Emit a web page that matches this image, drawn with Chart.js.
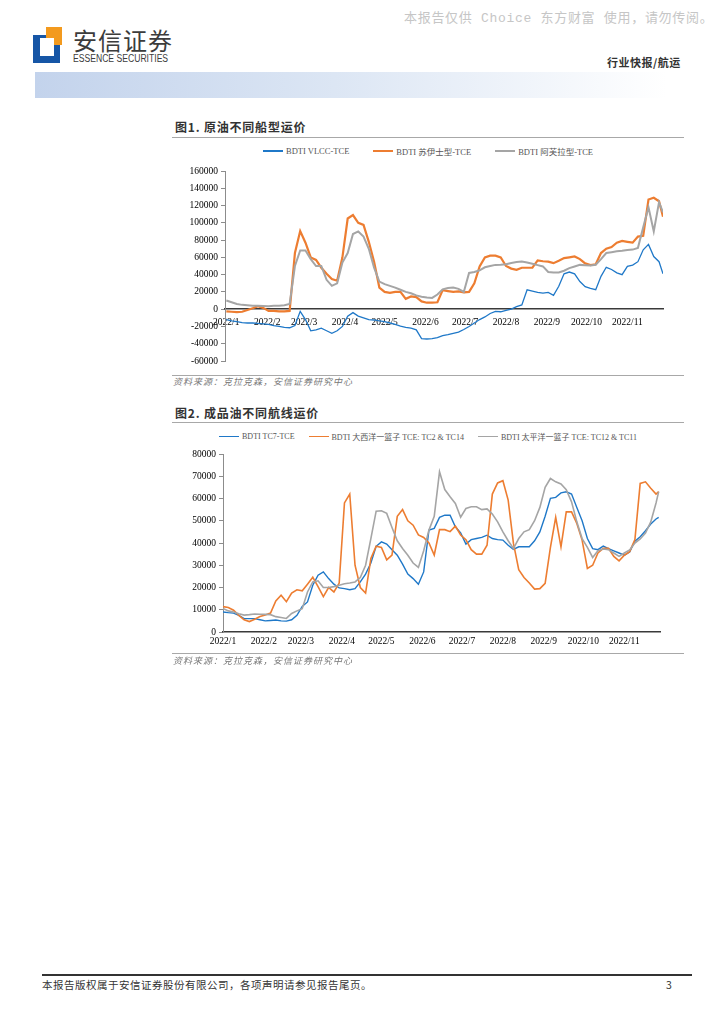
<!DOCTYPE html>
<html>
<head>
<meta charset="utf-8">
<script src="https://cdn.jsdelivr.net/npm/chart.js@4.4.0/dist/chart.umd.min.js"></script>
<style>
    body { margin: 0; width: 724px; height: 1024px; background: #fff; position: relative; overflow: hidden;
           font-family: "Noto Sans CJK SC", sans-serif; }
    .abs { position: absolute; white-space: nowrap; }
    .rule { position: absolute; height: 1px; background: #a8a8a8; }
    .title { font-size: 12px; font-weight: 700; color: #333; letter-spacing: 0.8px; }
    .source { font-size: 9px; font-style: italic; color: #777; letter-spacing: 1px; }
    .legend { position: absolute; left: 172px; width: 512px; display: flex; justify-content: center;
              font-family: "Liberation Serif", "Noto Sans CJK SC", serif; font-size: 8.5px; color: #555; }
    .legend .item { display: flex; align-items: center; }
    .legend .swatch { display: inline-block; margin-right: 3px; }
    .box { position: absolute; }
</style>
</head>
<body>

<div class="abs" style="left:404px;top:7px;font-size:13px;color:#c6c6c6;letter-spacing:0.7px;font-family:'Liberation Mono','Noto Sans CJK SC',monospace;">本报告仅供 Choice 东方财富 使用，请勿传阅。</div>

<!-- logo -->
<div class="abs" style="left:33px;top:35px;width:27px;height:28px;background:#1656a6;"></div>
<div class="abs" style="left:46px;top:27px;width:16px;height:18px;background:#f39a1e;"></div>
<div class="abs" style="left:40px;top:38px;width:14px;height:18px;background:#fff;"></div>
<div class="abs" style="left:73px;top:22px;font-size:24px;color:#3c3c3c;letter-spacing:1px;">安信证券</div>
<div class="abs" style="left:73px;top:53px;font-size:10px;color:#3c3c3c;font-family:'Liberation Sans',sans-serif;transform:scaleX(0.86);transform-origin:left;">ESSENCE SECURITIES</div>
<div class="abs" style="left:607px;top:54px;font-size:11px;font-weight:700;color:#333;letter-spacing:0.5px;">行业快报/航运</div>
<div class="abs" style="left:35px;top:72px;width:665px;height:26px;background:linear-gradient(to right,#c3d3ec 0%,#dce6f4 45%,#ffffff 95%);"></div>

<!-- figure 1 -->
<div class="abs title" style="left:175px;top:118px;">图1. 原油不同船型运价</div>
<div class="rule" style="left:172px;top:137px;width:512px;"></div>
<div class="legend" id="legend1" style="top:145px;"></div>
<div class="box" style="left:170px;top:161px;width:520px;height:210px;"><canvas id="crudeChart"></canvas></div>
<div class="rule" style="left:172px;top:375px;width:512px;"></div>
<div class="abs source" style="left:173px;top:375px;">资料来源：克拉克森，安信证券研究中心</div>

<!-- figure 2 -->
<div class="abs title" style="left:175px;top:404px;">图2. 成品油不同航线运价</div>
<div class="rule" style="left:172px;top:422px;width:512px;"></div>
<div class="legend" id="legend2" style="top:431px;font-size:8px;"></div>
<div class="box" style="left:168px;top:444px;width:522px;height:210px;"><canvas id="productChart"></canvas></div>
<div class="rule" style="left:172px;top:653px;width:512px;"></div>
<div class="abs source" style="left:173px;top:654px;">资料来源：克拉克森，安信证券研究中心</div>

<!-- footer -->
<div class="abs" style="left:42px;top:974px;width:650px;height:1.5px;background:#333;"></div>
<div class="abs" style="left:42px;top:977px;font-size:10.5px;color:#333;letter-spacing:0.5px;">本报告版权属于安信证券股份有限公司，各项声明请参见报告尾页。</div>
<div class="abs" style="left:666px;top:977px;font-size:10.5px;color:#333;">3</div>

<script>
// 月份刻度（2022年1月1日起的天数）
const monthStarts = [0, 31, 59, 90, 120, 151, 181, 212, 243, 273, 304];
const monthLabels = ['2022/1', '2022/2', '2022/3', '2022/4', '2022/5', '2022/6',
                     '2022/7', '2022/8', '2022/9', '2022/10', '2022/11'];

// ===================
// 图1 原油
// ===================
const crudeDays = [0, 4, 8, 12, 16, 20, 24, 28, 32, 36, 40, 44, 48, 52, 56, 60, 64, 68, 72, 76,
    80, 84, 88, 92, 96, 100, 104, 108, 112, 116, 120, 124, 128, 132, 136, 140, 144, 148, 152, 156,
    160, 164, 168, 172, 176, 180, 184, 188, 192, 196, 200, 204, 208, 212, 216, 220, 224, 228, 232, 236,
    240, 244, 248, 252, 256, 260, 264, 268, 272, 276, 280, 284, 288, 292, 296, 300, 304, 308, 312, 316,
    320, 324, 328, 331];
const crudeYTicks = [-60000, -40000, -20000, 0, 20000, 40000, 60000, 80000, 100000, 120000, 140000, 160000];

const vlcc = [-12000, -13500, -14500, -15500, -16000, -16000, -16500, -17000, -17700, -19000,
    -20000, -21000, -21500, -19000, -2500, -12000, -25000, -24000, -22000, -25000,
    -28000, -25000, -20000, -8000, -4000, -8000, -10000, -12000, -12500, -13500,
    -14500, -16000, -17500, -19500, -21000, -22000, -24000, -34000, -34500, -34000,
    -33000, -30600, -29500, -28000, -26500, -23500, -20000, -16000, -12000, -9000,
    -5000, -2500, -3000, -1500, 0, 3000, 5000, 22500, 21000, 19400,
    18500, 19400, 16000, 26500, 41000, 43000, 41000, 32000, 26000, 24000,
    22500, 38000, 48500, 46000, 42000, 40000, 49500, 51000, 55000, 68700,
    75000, 61000, 55000, 41000];
const suezmax = [-2500, -3000, -3500, -3000, -1000, 1000, 3500, 1500, -2000, -2000,
    -2500, -2500, -2000, 65000, 90500, 77000, 60000, 57000, 48000, 41000,
    35000, 33000, 60000, 105000, 109000, 100000, 97600, 78000, 55000, 25000,
    20000, 19000, 20000, 20000, 12000, 14800, 14000, 9000, 7500, 7500,
    8000, 22000, 21000, 20000, 20500, 19500, 20000, 30000, 49500, 60000,
    62000, 62000, 60000, 50000, 47000, 45600, 48000, 48000, 48000, 56400,
    55500, 55000, 53300, 56000, 59100, 60000, 61000, 58000, 53000, 51000,
    52000, 65000, 70000, 72000, 77000, 79000, 78000, 77000, 84000, 85000,
    127000, 129000, 125000, 107000];
const aframax = [10000, 8000, 6000, 5000, 4500, 4000, 4000, 3800, 3500, 4000,
    4000, 4500, 6000, 50000, 68000, 68000, 58000, 50000, 50000, 34000,
    27000, 30000, 54000, 65000, 87000, 90000, 84000, 70000, 48000, 32000,
    29000, 27000, 25000, 22500, 20000, 18500, 16000, 14500, 13500, 13000,
    17000, 23000, 24500, 25000, 23500, 20000, 42000, 43000, 45000, 48500,
    50000, 51300, 51500, 52000, 53500, 54500, 55200, 54000, 52500, 51000,
    49500, 43000, 42500, 42500, 44500, 47500, 49500, 51300, 51000, 50500,
    51500, 58000, 65000, 66000, 67000, 67600, 68500, 69000, 71000, 95000,
    118000, 90000, 124000, 112000];

// ===================
// 图2 成品油
// ===================
const productDays = [0, 4, 8, 12, 16, 20, 24, 28, 32, 36, 40, 44, 48, 52, 56, 60, 64, 68, 72, 76,
    80, 84, 88, 92, 96, 100, 104, 108, 112, 116, 120, 124, 128, 132, 136, 140, 144, 148, 152, 156,
    160, 164, 168, 172, 176, 180, 184, 188, 192, 196, 200, 204, 208, 212, 216, 220, 224, 228, 232, 236,
    240, 244, 248, 252, 256, 260, 264, 268, 272, 276, 280, 284, 288, 292, 296, 300, 304, 308, 312, 316,
    320, 324, 328, 330];
const productYTicks = [0, 10000, 20000, 30000, 40000, 50000, 60000, 70000, 80000];

const tc7 = [9000, 8700, 8500, 7500, 6000, 6000, 6000, 5500, 5000, 5200,
    5400, 5000, 4900, 5500, 7500, 11500, 13500, 21000, 25500, 27000,
    24000, 21500, 19800, 19500, 19000, 19500, 22500, 26000, 31000, 38500,
    40500, 39500, 37000, 34500, 30500, 26000, 24000, 21500, 27000, 45800,
    46600, 51500, 52500, 52500, 47300, 44500, 39500, 41500, 42000, 42500,
    43500, 42000, 41500, 41300, 39000, 37100, 38300, 38300, 38300, 41000,
    45000, 52000, 60100, 60500, 62500, 63000, 62000, 56000, 50000, 42000,
    37500, 37000, 38600, 37500, 36500, 35500, 34500, 36000, 40800, 42800,
    45500, 48500, 50800, 51500];
const atlantic = [11400, 11000, 9800, 7500, 5500, 4700, 5700, 7000, 7600, 8500,
    14000, 16500, 13600, 17500, 19000, 18500, 21500, 24600, 20400, 15900,
    20000, 18000, 22000, 58000, 62000, 30000, 20000, 17500, 33000, 38600,
    38000, 32400, 34600, 52000, 55000, 50000, 48000, 43600, 42500, 40000,
    34600, 46000, 46000, 45100, 47600, 43600, 41500, 37000, 35000, 35000,
    39000, 62000, 67000, 68000, 59300, 39800, 28000, 24500, 22000, 19300,
    19500, 21900, 38000, 51500, 38300, 54000, 54000, 48800, 41300, 28600,
    30000, 35500, 37600, 37600, 34000, 32000, 34500, 36100, 41500, 66800,
    67500, 64600, 62000, 63100];
const pacific = [10600, 9500, 9000, 8200, 7600, 7800, 8100, 8000, 7900, 7800,
    6900, 6500, 6100, 8300, 9500, 10500, 18000, 22500, 23000, 20000,
    20000, 20400, 21000, 21700, 22000, 22500, 24500, 30000, 42000, 54300,
    54500, 53300, 47000, 41000, 37500, 34500, 31000, 29000, 36500, 45800,
    52000, 72000, 64000, 60800, 57800, 51600, 55500, 56300, 56300, 55000,
    55300, 53000, 49500, 45000, 41000, 37500, 42000, 45000, 46000, 50000,
    56000, 65000, 69000, 67500, 66500, 64000, 58500, 49500, 42000, 38000,
    33500, 36500, 37300, 37000, 35500, 34000, 35500, 36900, 40000, 41800,
    44500, 49500, 58000, 63100];

const BLUE = '#1f78c8';
const ORANGE = '#ed7d31';
const GRAY = '#a5a5a5';
const tickFont = { family: 'Liberation Serif', size: 9.5 };

function toPoints(days, values) {
    return days.map((d, i) => ({ x: d, y: values[i] }));
}

function lineSet(label, days, values, color, width, order) {
    return {
        label: label,
        data: toPoints(days, values),
        borderColor: color,
        backgroundColor: color,
        borderWidth: width,
        pointRadius: 0,
        tension: 0,
        order: order
    };
}

function xScale(min, max, pad, onZero) {
    const s = {
        type: 'linear',
        min: min,
        max: max,
        grid: { display: false, drawTicks: false },
        border: { display: true, color: '#3a3a3a', width: 1.5 },
        afterBuildTicks: scale => { scale.ticks = monthStarts.map(v => ({ value: v })); },
        afterFit: scale => { scale.height = onZero ? 0 : 22; },
        ticks: {
            autoSkip: false,
            maxRotation: 0,
            padding: pad,
            color: '#000',
            font: tickFont,
            callback: (v, i) => monthLabels[i]
        }
    };
    if (onZero) s.position = { y: 0 };
    return s;
}

function yScale(tickValues) {
    return {
        min: tickValues[0],
        max: tickValues[tickValues.length - 1],
        afterBuildTicks: scale => { scale.ticks = tickValues.map(v => ({ value: v })); },
        afterFit: scale => { scale.width = 55; },
        grid: { drawOnChartArea: false, drawTicks: true, tickLength: 4, color: '#8c8c8c' },
        border: { color: '#8c8c8c', width: 1 },
        ticks: { padding: 3, color: '#000', font: tickFont, callback: v => String(v) }
    };
}

// 图例：由数据集生成
function buildLegend(id, chart, lineWidths, gap) {
    const box = document.getElementById(id);
    chart.data.datasets.forEach((ds, i) => {
        const item = document.createElement('span');
        item.className = 'item';
        item.style.margin = '0 ' + gap + 'px';
        const sw = document.createElement('span');
        sw.className = 'swatch';
        sw.style.width = '20px';
        sw.style.height = lineWidths[i] + 'px';
        sw.style.background = ds.borderColor;
        item.appendChild(sw);
        item.appendChild(document.createTextNode(ds.label));
        box.appendChild(item);
    });
}

const crudeChart = new Chart(document.getElementById('crudeChart'), {
    type: 'line',
    data: {
        datasets: [
            lineSet('BDTI VLCC-TCE', crudeDays, vlcc, BLUE, 1.3, 2),
            lineSet('BDTI 苏伊士型-TCE', crudeDays, suezmax, ORANGE, 2.2, 1),
            lineSet('BDTI 阿芙拉型-TCE', crudeDays, aframax, GRAY, 2, 0)
        ]
    },
    options: {
        responsive: true,
        maintainAspectRatio: false,
        animation: false,
        layout: { padding: { top: 10, bottom: 10, left: 0, right: 27 } },
        plugins: { legend: { display: false }, tooltip: { enabled: false } },
        scales: { x: xScale(-1, 331, 8, true), y: yScale(crudeYTicks) }
    }
});
buildLegend('legend1', crudeChart, [1.5, 2.5, 2], 12);

const productChart = new Chart(document.getElementById('productChart'), {
    type: 'line',
    data: {
        datasets: [
            lineSet('BDTI TC7-TCE', productDays, tc7, BLUE, 1.4, 2),
            lineSet('BDTI 大西洋一篮子 TCE: TC2 & TC14', productDays, atlantic, ORANGE, 1.6, 1),
            lineSet('BDTI 太平洋一篮子 TCE: TC12 & TC11', productDays, pacific, GRAY, 1.6, 0)
        ]
    },
    options: {
        responsive: true,
        maintainAspectRatio: false,
        animation: false,
        layout: { padding: { top: 10, bottom: 0, left: 0, right: 30 } },
        plugins: { legend: { display: false }, tooltip: { enabled: false } },
        scales: { x: xScale(0, 331, 4, false), y: yScale(productYTicks) }
    }
});
buildLegend('legend2', productChart, [1.5, 1.5, 1.5], 7);
</script>
</body>
</html>
